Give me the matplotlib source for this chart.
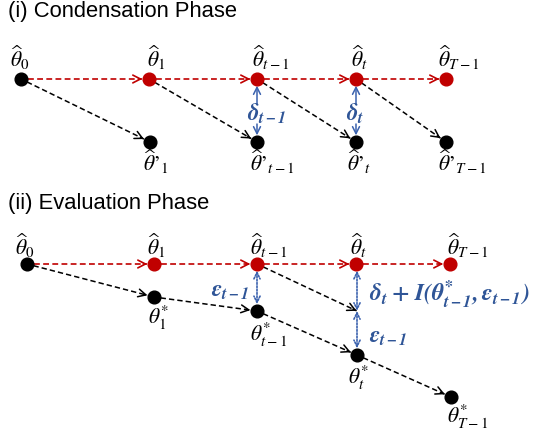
import math
import matplotlib
matplotlib.use("Agg")
import matplotlib.pyplot as plt

plt.rcParams['mathtext.fontset'] = 'stix'

RED = '#C00000'
BLUE = '#2F5597'
BLUE_LINE = '#3B62AE'
BLACK = '#000000'

# ---- data ----
titles = ["(i) Condensation Phase", "(ii) Evaluation Phase"]

top_labels = [r"$\widehat{\theta}_{0}$", r"$\widehat{\theta}_{1}$", r"$\widehat{\theta}_{t-1}$",
              r"$\widehat{\theta}_{t}$", r"$\widehat{\theta}_{T-1}$"]
cond_labels = [r"$\widehat{\theta}$’$_{1}$", r"$\widehat{\theta}$’$_{t-1}$",
               r"$\widehat{\theta}$’$_{t}$", r"$\widehat{\theta}$’$_{T-1}$"]
eval_labels = [r"$\theta^{*}_{1}$", r"$\theta^{*}_{t-1}$",
               r"$\theta^{*}_{t}$", r"$\theta^{*}_{T-1}$"]
delta_labels = [r"$\mathbfit{\delta_{t-1}}$", r"$\mathbfit{\delta_{t}}$"]
eps_label = r"$\mathbfit{\epsilon_{t-1}}$"
sum_label = r"$\mathbfit{\delta_t}\;\mathbf{+}\;\mathbfit{I(\theta^{*}_{t-1}, \epsilon_{t-1})}$"

# ---- positions (pixels) ----
# panel (i)
c_top_x = [21, 149, 257, 356, 446]
c_top_y = 79
c_bot_x = [150, 257, 356, 446]
c_bot_y = 142
c_top_lab_x = [10, 147, 252, 351, 438]
c_bot_lab_x = [143, 250, 347, 438]
# panel (ii)
e_top_x = [27, 154, 257, 356, 450]
e_top_y = 264
e_bot_x = [154, 257, 357, 451]
e_bot_y = [297, 311, 355, 397]
e_top_lab_x = [15, 147, 250, 350, 447]
e_bot_lab_x = [148, 250, 348, 447]
e_bot_lab_y = [318, 335, 378, 417]
junction_y = 311

W, H = 538, 437
fig = plt.figure(figsize=(W / 100, H / 100), dpi=100)
ax = fig.add_axes([0, 0, 1, 1])
ax.set_xlim(0, W)
ax.set_ylim(H, 0)
ax.axis('off')

R = 6  # node radius px
SH = R * 0.72 + 0.5


def head(x0, y0, x1, y1, color, lw=1.1, shrink=SH):
    ax.annotate('', xy=(x1, y1), xytext=(x0, y0),
                arrowprops=dict(arrowstyle='->,head_length=0.55,head_width=0.28',
                                color=color, lw=lw, shrinkA=0, shrinkB=shrink))


def dashed_arrow(p0, p1, color, lw=1.2, ls=(0, (3.5, 2)), shrinkA=SH, shrinkB=SH):
    dx, dy = p1[0] - p0[0], p1[1] - p0[1]
    L = math.hypot(dx, dy)
    ux, uy = dx / L, dy / L
    sa, sb = shrinkA / 0.72, shrinkB / 0.72
    a = (p0[0] + ux * sa, p0[1] + uy * sa)
    b = (p1[0] - ux * sb, p1[1] - uy * sb)
    ax.plot([a[0], b[0]], [a[1], b[1]], color=color, lw=lw, ls=ls, zorder=2)
    head(b[0] - ux * 4, b[1] - uy * 4, b[0], b[1], color, lw=lw, shrink=0)


def node(x, y, color):
    ax.plot([x], [y], 'o', ms=2 * R * 0.72 + 0.5, color=color, zorder=5)


MFS = 15.5
BFS = 16.5
TFS = 15.8
# ---------------- panel (i) ----------------
ax.text(8, 1, titles[0], fontsize=TFS, family='Liberation Sans', ha='left', va='top')

for i in range(len(c_top_x) - 1):
    dashed_arrow((c_top_x[i], c_top_y), (c_top_x[i + 1], c_top_y), RED)
for i in range(len(c_bot_x)):
    dashed_arrow((c_top_x[i], c_top_y), (c_bot_x[i], c_bot_y), BLACK, lw=1.1)

for i, x in enumerate(c_top_x):
    node(x, c_top_y, BLACK if i == 0 else RED)
    ax.text(c_top_lab_x[i], 58, top_labels[i], fontsize=MFS, ha='left', va='center')
for i, x in enumerate(c_bot_x):
    node(x, c_bot_y, BLACK)
    ax.text(c_bot_lab_x[i], 162, cond_labels[i], fontsize=MFS, family='STIXGeneral',
            ha='left', va='center')

for k, (x, lx) in enumerate([(c_top_x[2], 247), (c_top_x[3], 346)]):
    ax.annotate('', xy=(x, c_top_y), xytext=(x, 104),
                arrowprops=dict(arrowstyle='->,head_length=0.5,head_width=0.25',
                                color=BLUE_LINE, lw=1.1, shrinkA=0, shrinkB=SH))
    ax.annotate('', xy=(x, c_bot_y), xytext=(x, 124),
                arrowprops=dict(arrowstyle='->,head_length=0.5,head_width=0.25',
                                color=BLUE_LINE, lw=1.1, shrinkA=0, shrinkB=SH))
    ax.text(lx, 114, delta_labels[k], fontsize=BFS, color=BLUE, ha='left', va='center')

# ---------------- panel (ii) ----------------
ax.text(8, 193, titles[1], fontsize=TFS, family='Liberation Sans', ha='left', va='top')

for i in range(len(e_top_x) - 1):
    dashed_arrow((e_top_x[i], e_top_y), (e_top_x[i + 1], e_top_y), RED)

dashed_arrow((e_top_x[0], e_top_y), (e_bot_x[0], e_bot_y[0]), BLACK, lw=1.1)
for i in range(len(e_bot_x) - 1):
    dashed_arrow((e_bot_x[i], e_bot_y[i]), (e_bot_x[i + 1], e_bot_y[i + 1]), BLACK, lw=1.1)
dashed_arrow((e_top_x[2], e_top_y), (e_bot_x[2], junction_y), BLACK, lw=1.1, shrinkB=0.3)

for i, x in enumerate(e_top_x):
    node(x, e_top_y, BLACK if i == 0 else RED)
    ax.text(e_top_lab_x[i], 246, top_labels[i], fontsize=MFS, ha='left', va='center')
for i, x in enumerate(e_bot_x):
    node(x, e_bot_y[i], BLACK)
    ax.text(e_bot_lab_x[i], e_bot_lab_y[i], eval_labels[i], fontsize=MFS, ha='left', va='center')


def dotted_double(x, y0, y1, s0, s1):
    ax.annotate('', xy=(x, y1), xytext=(x, y0),
                arrowprops=dict(arrowstyle='<->,head_length=0.45,head_width=0.22',
                                color=BLUE_LINE, lw=1.2, ls=(0, (1, 1)), shrinkA=s0, shrinkB=s1))


dotted_double(e_top_x[2], e_top_y, e_bot_y[1], SH, SH)
dotted_double(e_bot_x[2], e_top_y, junction_y, SH, 0)
dotted_double(e_bot_x[2], junction_y, e_bot_y[2], 0, SH)

ax.text(211, 290, eps_label, fontsize=BFS, color=BLUE, ha='left', va='center')
ax.text(369, 295, sum_label, fontsize=17, color=BLUE, ha='left', va='center')
ax.text(369, 337, eps_label, fontsize=BFS, color=BLUE, ha='left', va='center')

fig.savefig('out.png', dpi=100)
